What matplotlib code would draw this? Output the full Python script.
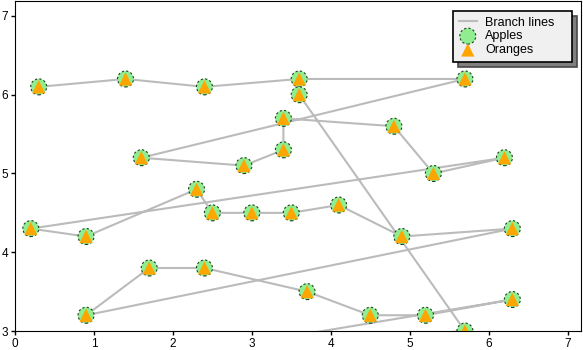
import matplotlib
matplotlib.use('Agg')
import matplotlib.pyplot as plt

plt.rcParams['font.family'] = ['Liberation Sans', 'DejaVu Sans']

# branch points, in the order the lines join them
xs = [0.3, 1.4, 2.4, 3.6, 5.7, 1.6, 2.9, 3.4, 3.4, 4.8, 5.3, 6.2, 0.2, 0.9, 2.3, 2.5,
      3.0, 3.5, 4.1, 4.9, 6.3, 0.9, 1.7, 2.4, 3.7, 4.5, 5.2, 6.3, 2.4, 5.7, 3.6]
ys = [6.1, 6.2, 6.1, 6.2, 6.2, 5.2, 5.1, 5.3, 5.7, 5.6, 5.0, 5.2, 4.3, 4.2, 4.8, 4.5,
      4.5, 4.5, 4.6, 4.2, 4.3, 3.2, 3.8, 3.8, 3.5, 3.2, 3.2, 3.4, 2.75, 3.0, 6.0]

xticks = [0, 1, 2, 3, 4, 5, 6, 7]
yticks = [3, 4, 5, 6, 7]

fig = plt.figure(figsize=(5.83, 3.5), dpi=100)
ax = fig.add_axes([15 / 583, 19 / 350, 566 / 583, 330 / 350])

ax.plot(xs, ys, color='#bbbbbb', lw=1.5, zorder=1, label='Branch lines')
ax.scatter(xs, ys, s=11.5 ** 2, marker='o', facecolor='lightgreen', edgecolor='#1f3f1f',
           linewidths=0.8, linestyle=(0, (2, 2)), zorder=2, label='Apples')
ax.scatter(xs, ys, s=9.5 ** 2, marker='^', facecolor='orange', edgecolor='none',
           zorder=3, label='Oranges')

ax.set_xlim(0, 7.17)
ax.set_ylim(3, 7.19)
ax.set_xticks(xticks)
ax.set_yticks(yticks)
ax.tick_params(direction='out', length=3, width=1, labelsize=8.5, pad=2)

# fixed-width legend box, entries left aligned
leg = ax.legend(loc='upper left', bbox_to_anchor=(0.774, 0.97, 0.21, 0.0), mode='expand',
                borderaxespad=0, fontsize=9, fancybox=False, framealpha=1,
                facecolor='#f0f0f0', edgecolor='black',
                handlelength=1.45, handletextpad=0.65, labelspacing=0.15, borderpad=0.45,
                shadow={'ox': 3.5, 'oy': -3.5, 'facecolor': '#808080', 'alpha': 1})
leg.get_frame().set_linewidth(1.2)

fig.savefig('out.png', dpi=100)
